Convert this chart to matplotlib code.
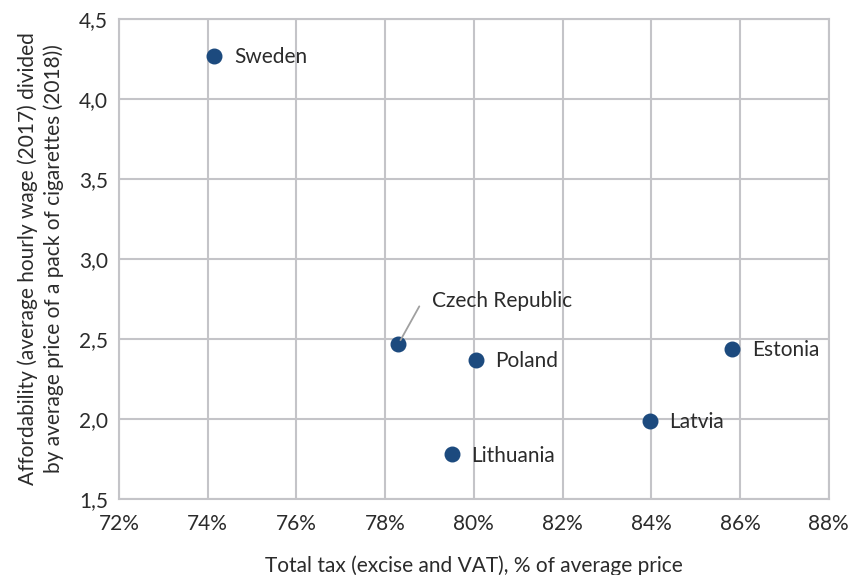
import matplotlib.pyplot as plt
from matplotlib.ticker import FuncFormatter

plt.rcParams['font.family'] = ['Lato', 'DejaVu Sans']

countries = ['Sweden', 'Czech Republic', 'Poland', 'Lithuania', 'Latvia', 'Estonia']
total_tax = [74.15, 78.3, 80.05, 79.5, 83.97, 85.83]
affordability = [4.27, 2.47, 2.37, 1.78, 1.99, 2.44]

grid_color = '#c4c4c8'
dot_color = '#1c4a7e'
text_color = '#2b2b2b'

fig = plt.figure(figsize=(8.5, 5.75), dpi=100)
ax = fig.add_axes([0.14, 0.132, 0.835, 0.835])

ax.scatter(total_tax, affordability, s=110, color=dot_color, zorder=3)

for name, x, y in zip(countries, total_tax, affordability):
    if name == 'Czech Republic':
        # leader line, then the label above right of it
        ax.annotate('', xy=(x, y), xytext=(15, 27), textcoords='offset points',
                    arrowprops=dict(arrowstyle='-', color='#a0a0a0', lw=1.3,
                                    shrinkA=0, shrinkB=3), zorder=4)
        ax.annotate(name, xy=(x, y), xytext=(24.5, 31), textcoords='offset points',
                    fontsize=15, color=text_color, va='center', ha='left')
    else:
        ax.annotate(name, xy=(x, y), xytext=(14, -1), textcoords='offset points',
                    fontsize=15, color=text_color, va='center', ha='left')

ax.set_xlim(72, 88)
ax.set_ylim(1.5, 4.5)
ax.set_xticks(range(72, 89, 2))
ax.set_yticks([1.5, 2.0, 2.5, 3.0, 3.5, 4.0, 4.5])
ax.xaxis.set_major_formatter(FuncFormatter(lambda v, p: f'{v:.0f}%'))
ax.yaxis.set_major_formatter(FuncFormatter(lambda v, p: f'{v:.1f}'.replace('.', ',')))

ax.grid(True, color=grid_color, linewidth=1.5)
ax.set_axisbelow(True)
for s in ax.spines.values():
    s.set_color(grid_color)
    s.set_linewidth(1.5)
ax.tick_params(length=0, labelsize=15, colors=text_color)
ax.tick_params(axis='x', pad=11)
ax.tick_params(axis='y', pad=8)

ax.set_xlabel('Total tax (excise and VAT), % of average price', fontsize=15,
              color=text_color, labelpad=15)
ax.set_ylabel('Affordability (average hourly wage (2017) divided\nby average price of a pack of cigarettes (2018))',
              fontsize=15, color=text_color, labelpad=11, linespacing=1.3)

fig.savefig('out.png', dpi=100)
